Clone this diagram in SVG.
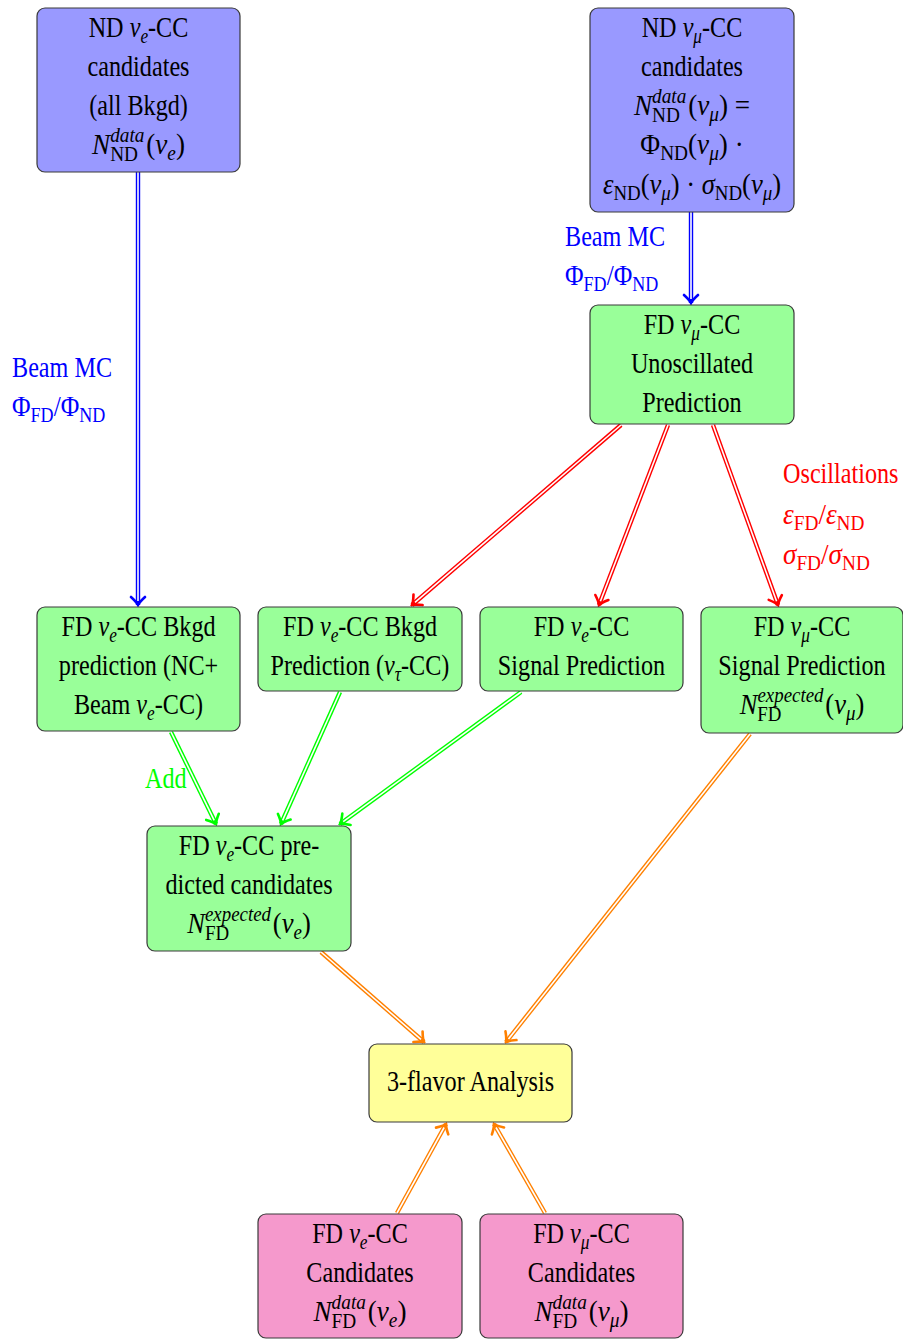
<svg xmlns="http://www.w3.org/2000/svg" width="903" height="1340" viewBox="0 0 903 1340">
<style>
text{font-family:"Liberation Serif","Times New Roman",serif;font-size:29.5px;fill:#000}
.m{text-anchor:middle}
.i{font-style:italic}
.s{font-size:21px}
.box{stroke:#3a3a3a;stroke-width:1.2}
.bl{fill:#9999ff}.gr{fill:#99ff99}.ye{fill:#ffff99}.pk{fill:#f599cc}
.w{fill:none;stroke:#fff;stroke-width:1.6}
.cb{fill:none;stroke:#0000ff;stroke-width:4.4}
.cr{fill:none;stroke:#ff0000;stroke-width:4.4}
.cg{fill:none;stroke:#00ff00;stroke-width:4.4}
.co{fill:none;stroke:#ff8000;stroke-width:4.4}
.lb{fill:#0000ff}.lr{fill:#ff0000}.lg{fill:#00ff00}
</style>
<defs>
<marker id="hb" markerUnits="userSpaceOnUse" viewBox="-10 -9 12 18" refX="0" refY="0" markerWidth="12" markerHeight="18" orient="auto"><path d="M-8,-7 Q-3,-1.5 0,0 Q-3,1.5 -8,7" fill="none" stroke="#0000ff" stroke-width="2.6" stroke-linecap="round"/></marker>
<marker id="hr" markerUnits="userSpaceOnUse" viewBox="-10 -9 12 18" refX="0" refY="0" markerWidth="12" markerHeight="18" orient="auto"><path d="M-8,-7 Q-3,-1.5 0,0 Q-3,1.5 -8,7" fill="none" stroke="#ff0000" stroke-width="2.6" stroke-linecap="round"/></marker>
<marker id="hg" markerUnits="userSpaceOnUse" viewBox="-10 -9 12 18" refX="0" refY="0" markerWidth="12" markerHeight="18" orient="auto"><path d="M-8,-7 Q-3,-1.5 0,0 Q-3,1.5 -8,7" fill="none" stroke="#00ff00" stroke-width="2.6" stroke-linecap="round"/></marker>
<marker id="ho" markerUnits="userSpaceOnUse" viewBox="-10 -9 12 18" refX="0" refY="0" markerWidth="12" markerHeight="18" orient="auto"><path d="M-8,-7 Q-3,-1.5 0,0 Q-3,1.5 -8,7" fill="none" stroke="#ff8000" stroke-width="2.6" stroke-linecap="round"/></marker>
</defs>

<g id="connectors">
<path class="cb" d="M138,172 L138,605" marker-end="url(#hb)"/><path class="w" d="M138,172 L138,601"/>
<path class="cb" d="M691,212 L691,303" marker-end="url(#hb)"/><path class="w" d="M691,212 L691,299"/>
<path class="cr" d="M621,425 L412,605" marker-end="url(#hr)"/><path class="w" d="M621,425 L415,602.4"/>
<path class="cr" d="M668,425 L599,605" marker-end="url(#hr)"/><path class="w" d="M668,425 L600.4,601.3"/>
<path class="cr" d="M713,425 L778,605" marker-end="url(#hr)"/><path class="w" d="M713,425 L776.6,601.2"/>
<path class="cg" d="M171,732 L216,824" marker-end="url(#hg)"/><path class="w" d="M171,732 L214.2,820.4"/>
<path class="cg" d="M340,692 L281,824" marker-end="url(#hg)"/><path class="w" d="M340,692 L282.6,820.3"/>
<path class="cg" d="M521,692 L340,824" marker-end="url(#hg)"/><path class="w" d="M521,692 L343.2,821.6"/>
<path class="co" d="M321,952 L424,1042" marker-end="url(#ho)"/><path class="w" d="M321,952 L421,1039.4"/>
<path class="co" d="M750,734 L506,1042" marker-end="url(#ho)"/><path class="w" d="M750,734 L508.5,1038.9"/>
<path class="co" d="M397,1213 L446,1124" marker-end="url(#ho)"/><path class="w" d="M397,1213 L444.1,1127.5"/>
<path class="co" d="M545,1213 L494,1124" marker-end="url(#ho)"/><path class="w" d="M545,1213 L496,1127.5"/>
</g>

<g id="labels">
<text class="lb" transform="translate(12,377) scale(0.82,1)">Beam MC</text>
<text class="lb" transform="translate(12,416) scale(0.86,1)">Φ<tspan class="s" dy="6">FD</tspan><tspan dy="-6">/Φ</tspan><tspan class="s" dy="6">ND</tspan></text>
<text class="lb" transform="translate(565,246) scale(0.82,1)">Beam MC</text>
<text class="lb" transform="translate(565,285) scale(0.86,1)">Φ<tspan class="s" dy="6">FD</tspan><tspan dy="-6">/Φ</tspan><tspan class="s" dy="6">ND</tspan></text>
<text class="lr" transform="translate(783,483) scale(0.82,1)">Oscillations</text>
<text class="lr" transform="translate(783,524) scale(0.92,1)"><tspan class="i">ε</tspan><tspan class="s" dy="6">FD</tspan><tspan dy="-6">/</tspan><tspan class="i">ε</tspan><tspan class="s" dy="6">ND</tspan></text>
<text class="lr" transform="translate(783,564) scale(0.92,1)"><tspan class="i">σ</tspan><tspan class="s" dy="6">FD</tspan><tspan dy="-6">/</tspan><tspan class="i">σ</tspan><tspan class="s" dy="6">ND</tspan></text>
<text class="lg" transform="translate(145,788) scale(0.82,1)">Add</text>
</g>

<g id="nd-nue">
<rect class="box bl" x="37" y="8" width="203" height="164" rx="8"/>
<text class="m" transform="translate(138.5,37) scale(0.82,1)">ND <tspan class="i">ν</tspan><tspan class="s i" dy="6">e</tspan><tspan dy="-6">-CC</tspan></text>
<text class="m" transform="translate(138.5,76) scale(0.82,1)">candidates</text>
<text class="m" transform="translate(138.5,115) scale(0.82,1)">(all Bkgd)</text>
<text class="m" transform="translate(138.5,154) scale(0.92,1)"><tspan class="i">N</tspan><tspan class="s i" dy="-12">data</tspan><tspan class="s" dx="-37.3" dy="19">ND</tspan><tspan dx="9" dy="-7">(</tspan><tspan class="i">ν</tspan><tspan class="s i" dy="6">e</tspan><tspan dy="-6">)</tspan></text>
</g>

<g id="nd-numu">
<rect class="box bl" x="590" y="8" width="204" height="204" rx="8"/>
<text class="m" transform="translate(692,37) scale(0.82,1)">ND <tspan class="i">ν</tspan><tspan class="s i" dy="6">μ</tspan><tspan dy="-6">-CC</tspan></text>
<text class="m" transform="translate(692,76) scale(0.82,1)">candidates</text>
<text class="m" transform="translate(692,115) scale(0.92,1)"><tspan class="i">N</tspan><tspan class="s i" dy="-12">data</tspan><tspan class="s" dx="-37.3" dy="19">ND</tspan><tspan dx="9" dy="-7">(</tspan><tspan class="i">ν</tspan><tspan class="s i" dy="6">μ</tspan><tspan dy="-6">)  =</tspan></text>
<text class="m" transform="translate(692,154) scale(0.92,1)">Φ<tspan class="s" dy="6">ND</tspan><tspan dy="-6">(</tspan><tspan class="i">ν</tspan><tspan class="s i" dy="6">μ</tspan><tspan dy="-6">) ·</tspan></text>
<text class="m" transform="translate(692,194) scale(0.9,1)"><tspan class="i">ε</tspan><tspan class="s" dy="6">ND</tspan><tspan dy="-6">(</tspan><tspan class="i">ν</tspan><tspan class="s i" dy="6">μ</tspan><tspan dy="-6">) · </tspan><tspan class="i">σ</tspan><tspan class="s" dy="6">ND</tspan><tspan dy="-6">(</tspan><tspan class="i">ν</tspan><tspan class="s i" dy="6">μ</tspan><tspan dy="-6">)</tspan></text>
</g>

<g id="fd-numu-unosc">
<rect class="box gr" x="590" y="305" width="204" height="119" rx="8"/>
<text class="m" transform="translate(692,334) scale(0.82,1)">FD <tspan class="i">ν</tspan><tspan class="s i" dy="6">μ</tspan><tspan dy="-6">-CC</tspan></text>
<text class="m" transform="translate(692,373) scale(0.82,1)">Unoscillated</text>
<text class="m" transform="translate(692,412) scale(0.82,1)">Prediction</text>
</g>

<g id="fd-nue-bkgd-nc">
<rect class="box gr" x="37" y="607" width="203" height="124" rx="8"/>
<text class="m" transform="translate(138.5,636) scale(0.82,1)">FD <tspan class="i">ν</tspan><tspan class="s i" dy="6">e</tspan><tspan dy="-6">-CC Bkgd</tspan></text>
<text class="m" transform="translate(138.5,675) scale(0.82,1)">prediction (NC+</text>
<text class="m" transform="translate(138.5,714) scale(0.82,1)">Beam <tspan class="i">ν</tspan><tspan class="s i" dy="6">e</tspan><tspan dy="-6">-CC)</tspan></text>
</g>

<g id="fd-nue-bkgd-nutau">
<rect class="box gr" x="258" y="607" width="204" height="84" rx="8"/>
<text class="m" transform="translate(360,636) scale(0.82,1)">FD <tspan class="i">ν</tspan><tspan class="s i" dy="6">e</tspan><tspan dy="-6">-CC Bkgd</tspan></text>
<text class="m" transform="translate(360,675) scale(0.82,1)">Prediction (<tspan class="i">ν</tspan><tspan class="s i" dy="6">τ</tspan><tspan dy="-6">-CC)</tspan></text>
</g>

<g id="fd-nue-signal">
<rect class="box gr" x="480" y="607" width="203" height="84" rx="8"/>
<text class="m" transform="translate(581.5,636) scale(0.82,1)">FD <tspan class="i">ν</tspan><tspan class="s i" dy="6">e</tspan><tspan dy="-6">-CC</tspan></text>
<text class="m" transform="translate(581.5,675) scale(0.82,1)">Signal Prediction</text>
</g>

<g id="fd-numu-signal">
<rect class="box gr" x="701" y="607" width="202" height="126" rx="8"/>
<text class="m" transform="translate(802,636) scale(0.82,1)">FD <tspan class="i">ν</tspan><tspan class="s i" dy="6">μ</tspan><tspan dy="-6">-CC</tspan></text>
<text class="m" transform="translate(802,675) scale(0.82,1)">Signal Prediction</text>
<text class="m" transform="translate(802,714) scale(0.9,1)"><tspan class="i">N</tspan><tspan class="s i" dy="-12">expected</tspan><tspan class="s" dx="-73.5" dy="19">FD</tspan><tspan dx="48.7" dy="-7">(</tspan><tspan class="i">ν</tspan><tspan class="s i" dy="6">μ</tspan><tspan dy="-6">)</tspan></text>
</g>

<g id="fd-nue-predicted">
<rect class="box gr" x="147" y="826" width="204" height="125" rx="8"/>
<text class="m" transform="translate(249,855) scale(0.82,1)">FD <tspan class="i">ν</tspan><tspan class="s i" dy="6">e</tspan><tspan dy="-6">-CC pre-</tspan></text>
<text class="m" transform="translate(249,894) scale(0.82,1)">dicted candidates</text>
<text class="m" transform="translate(249,933) scale(0.9,1)"><tspan class="i">N</tspan><tspan class="s i" dy="-12">expected</tspan><tspan class="s" dx="-73.5" dy="19">FD</tspan><tspan dx="48.7" dy="-7">(</tspan><tspan class="i">ν</tspan><tspan class="s i" dy="6">e</tspan><tspan dy="-6">)</tspan></text>
</g>

<g id="three-flavor">
<rect class="box ye" x="369" y="1044" width="203" height="78" rx="8"/>
<text class="m" transform="translate(470.5,1091) scale(0.82,1)">3-flavor Analysis</text>
</g>

<g id="fd-nue-cand">
<rect class="box pk" x="258" y="1214" width="204" height="124" rx="8"/>
<text class="m" transform="translate(360,1243) scale(0.82,1)">FD <tspan class="i">ν</tspan><tspan class="s i" dy="6">e</tspan><tspan dy="-6">-CC</tspan></text>
<text class="m" transform="translate(360,1282) scale(0.82,1)">Candidates</text>
<text class="m" transform="translate(360,1321) scale(0.92,1)"><tspan class="i">N</tspan><tspan class="s i" dy="-12">data</tspan><tspan class="s" dx="-37.3" dy="19">FD</tspan><tspan dx="12.5" dy="-7">(</tspan><tspan class="i">ν</tspan><tspan class="s i" dy="6">e</tspan><tspan dy="-6">)</tspan></text>
</g>

<g id="fd-numu-cand">
<rect class="box pk" x="480" y="1214" width="203" height="124" rx="8"/>
<text class="m" transform="translate(581.5,1243) scale(0.82,1)">FD <tspan class="i">ν</tspan><tspan class="s i" dy="6">μ</tspan><tspan dy="-6">-CC</tspan></text>
<text class="m" transform="translate(581.5,1282) scale(0.82,1)">Candidates</text>
<text class="m" transform="translate(581.5,1321) scale(0.92,1)"><tspan class="i">N</tspan><tspan class="s i" dy="-12">data</tspan><tspan class="s" dx="-37.3" dy="19">FD</tspan><tspan dx="12.5" dy="-7">(</tspan><tspan class="i">ν</tspan><tspan class="s i" dy="6">μ</tspan><tspan dy="-6">)</tspan></text>
</g>
</svg>
